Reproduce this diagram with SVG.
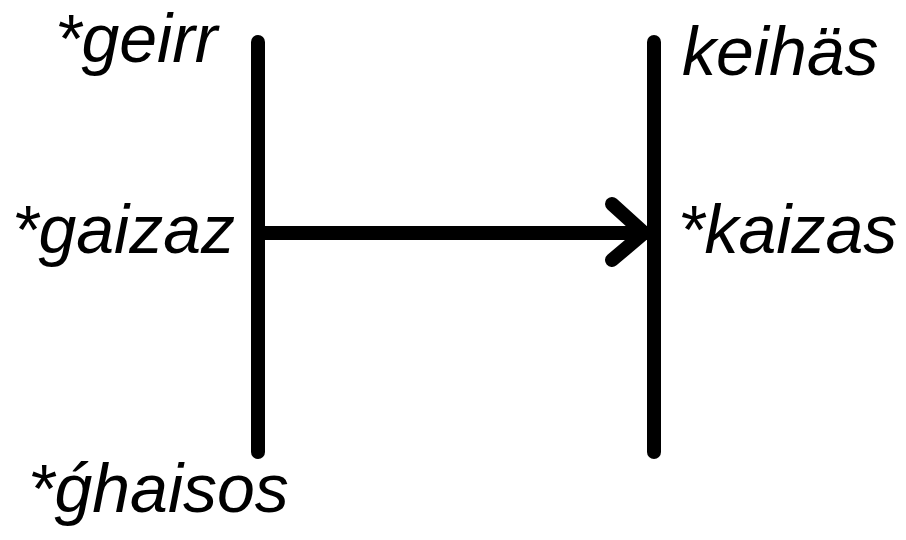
<svg xmlns="http://www.w3.org/2000/svg" width="906" height="540" viewBox="0 0 906 540">
<style>
.t{font-family:"Liberation Sans",Arial,sans-serif;font-style:italic;font-size:68px;fill:#000}
.l{stroke:#000;stroke-width:14;stroke-linecap:round;stroke-linejoin:round;fill:none}
</style>
<rect width="906" height="540" fill="#fff"/>
<g id="left-line"><line class="l" x1="258" y1="42" x2="258" y2="452"/></g>
<g id="right-line"><line class="l" x1="654" y1="42" x2="654" y2="452"/></g>
<g id="connectors">
<line class="l" x1="258" y1="233" x2="646" y2="233"/>
<polyline class="l" points="612,204 644,233 612,260"/>
</g>
<g id="geirr"><text class="t" x="55" y="62">*geirr</text></g>
<g id="gaizaz"><text class="t" x="12" y="253">*gaizaz</text></g>
<g id="ghaisos"><text class="t" x="28" y="512">*ǵhaisos</text></g>
<g id="keihas"><text class="t" x="682" y="75">keihäs</text></g>
<g id="kaizas"><text class="t" x="678" y="253">*kaizas</text></g>
</svg>
